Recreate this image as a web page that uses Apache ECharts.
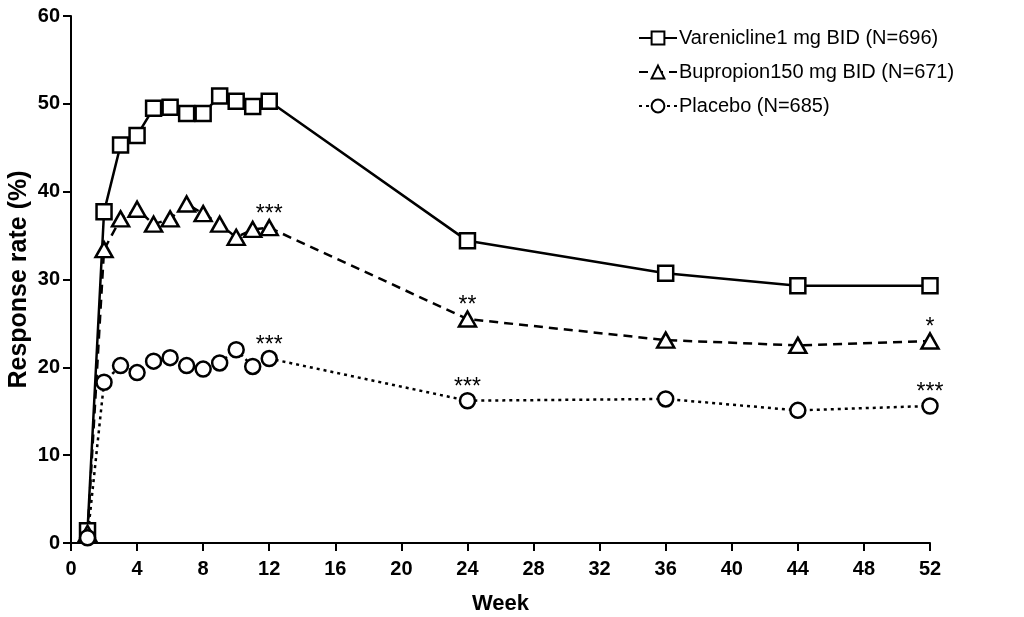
<!DOCTYPE html>
<html lang="en">

<head>
    <title>Response rate by week</title>
    <meta charset="UTF-8">
    <script src="https://cdn.jsdelivr.net/npm/echarts@6/dist/echarts.min.js"></script>
    <style>
        html, body { margin: 0; padding: 0; background: #fff; }
    </style>
</head>

<body>
    <div id="main" style="width: 1024px;height:617px;"></div>
    <script>
        // 数据
        var weeks = [1, 2, 3, 4, 5, 6, 7, 8, 9, 10, 11, 12, 24, 36, 44, 52];
        var varenicline = [1.4, 37.7, 45.3, 46.4, 49.5, 49.6, 48.9, 48.9, 50.9, 50.3, 49.7, 50.3, 34.4, 30.7, 29.3, 29.3];
        var bupropion = [1.1, 33.4, 36.9, 38.0, 36.3, 36.9, 38.6, 37.5, 36.3, 34.8, 35.7, 35.9, 25.5, 23.1, 22.5, 23.0];
        var placebo = [0.6, 18.3, 20.2, 19.4, 20.7, 21.1, 20.2, 19.8, 20.5, 22.0, 20.1, 21.0, 16.2, 16.4, 15.1, 15.6];
        // significance marks (vs varenicline)
        var bupropionStars = ['', '', '', '', '', '', '', '', '', '', '', '***', '**', '', '', '*'];
        var placeboStars = ['', '', '', '', '', '', '', '', '', '', '', '***', '***', '', '', '***'];
        var xTicks = [0, 4, 8, 12, 16, 20, 24, 28, 32, 36, 40, 44, 48, 52];
        var yTicks = [0, 10, 20, 30, 40, 50, 60];

        var font = 'Liberation Sans, Arial, sans-serif';

        function toPoints(values, stars) {
            return values.map(function (v, i) {
                return { value: [weeks[i], v], mark: stars ? stars[i] : '' };
            });
        }

        function makeSeries(name, values, stars, symbol, size, lineType) {
            return {
                name: name,
                type: 'line',
                data: toPoints(values, stars),
                symbol: symbol,
                symbolSize: size,
                showAllSymbol: true,
                lineStyle: { color: '#000', width: 2.5, type: lineType },
                itemStyle: { color: '#fff', borderColor: '#000', borderWidth: 2.5 },
                label: {
                    show: !!stars,
                    position: 'top',
                    distance: -7,
                    color: '#000',
                    fontSize: 23,
                    lineHeight: 23,
                    fontFamily: font,
                    formatter: function (p) { return p.data.mark; }
                },
                emphasis: { disabled: true },
                animation: false,
                z: 3
            };
        }

        var myChart = echarts.init(document.getElementById('main'));

        var option = {
            backgroundColor: '#fff',
            grid: { left: 71, right: 94, top: 16, bottom: 74, containLabel: false, outerBoundsMode: 'none' },
            legend: {
                orient: 'vertical',
                left: 633,
                top: 23,
                itemWidth: 38,
                itemHeight: 16,
                itemGap: 14,
                textStyle: { color: '#000', fontSize: 20, fontFamily: font, lineHeight: 20, padding: [0, 0, 0, -3] },
                data: ['Varenicline1 mg BID (N=696)', 'Bupropion150 mg BID (N=671)', 'Placebo (N=685)']
            },
            xAxis: {
                type: 'value',
                min: 0,
                max: 52,
                interval: 4,
                name: 'Week',
                nameLocation: 'middle',
                nameGap: 50,
                nameMoveOverlap: false,
                nameTextStyle: { color: '#000', fontSize: 22, fontWeight: 'bold', fontFamily: font },
                axisLine: { show: true, lineStyle: { color: '#000', width: 2 } },
                axisTick: { show: true, length: 8, lineStyle: { color: '#000', width: 2 }, customValues: xTicks },
                axisLabel: { color: '#000', fontSize: 20, fontWeight: 'bold', fontFamily: font, margin: 16, customValues: xTicks },
                splitLine: { show: false }
            },
            yAxis: {
                type: 'value',
                min: 0,
                max: 60,
                interval: 10,
                name: 'Response rate (%)',
                nameLocation: 'middle',
                nameGap: 39,
                nameMoveOverlap: false,
                nameRotate: 90,
                nameTextStyle: { color: '#000', fontSize: 25, fontWeight: 'bold', fontFamily: font },
                axisLine: { show: true, lineStyle: { color: '#000', width: 2 } },
                axisTick: { show: true, length: 8, lineStyle: { color: '#000', width: 2 }, customValues: yTicks },
                axisLabel: { color: '#000', fontSize: 20, fontWeight: 'bold', fontFamily: font, margin: 11, customValues: yTicks },
                splitLine: { show: false }
            },
            series: [
                makeSeries('Varenicline1 mg BID (N=696)', varenicline, null, 'rect', 15, 'solid'),
                makeSeries('Bupropion150 mg BID (N=671)', bupropion, bupropionStars, 'triangle', [17, 15], [9, 6]),
                makeSeries('Placebo (N=685)', placebo, placeboStars, 'circle', 15, [3, 4])
            ]
        };

        myChart.setOption(option);
    </script>
</body>

</html>
